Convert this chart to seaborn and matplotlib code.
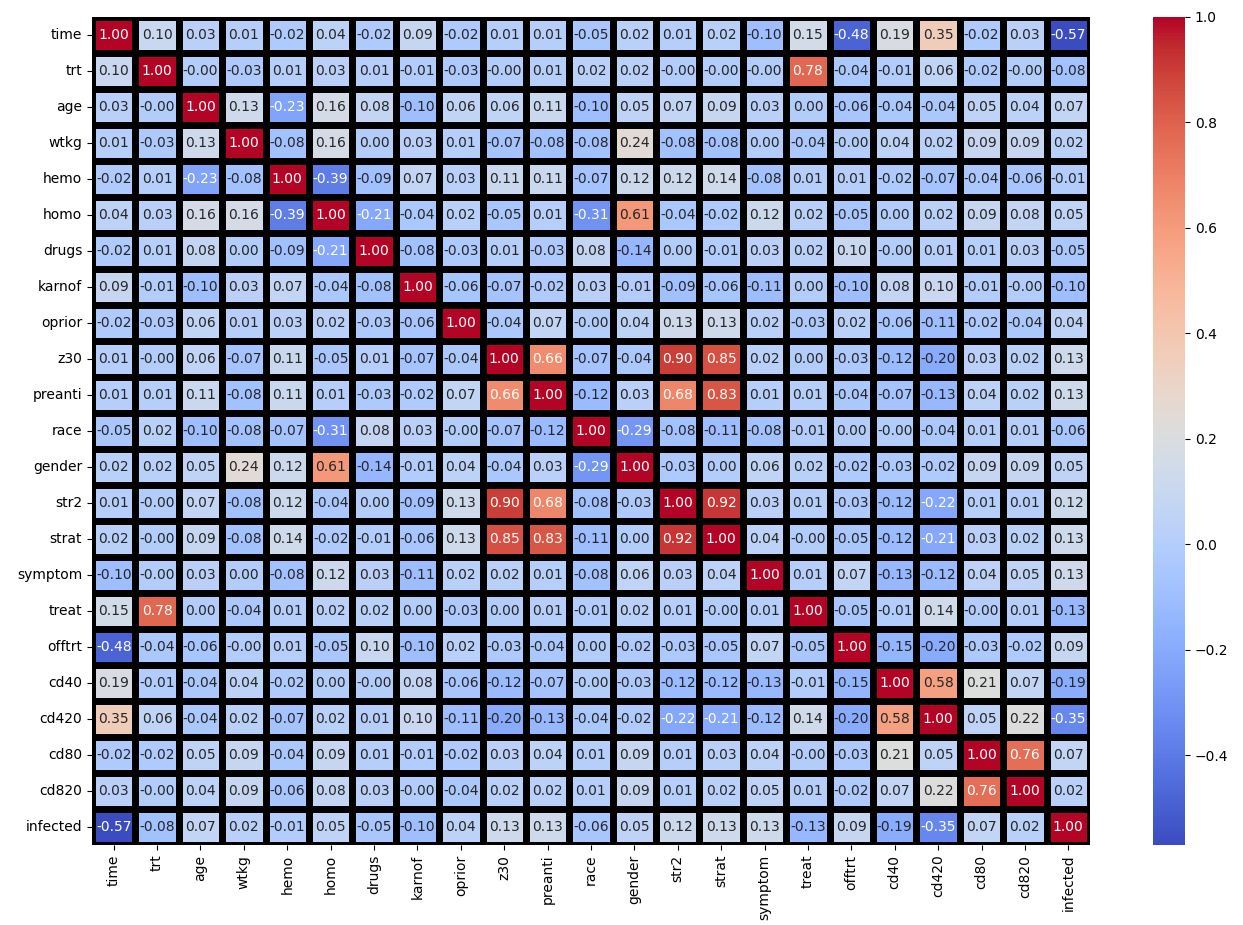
import matplotlib
matplotlib.use("Agg")
import matplotlib.pyplot as plt
import seaborn as sns
import numpy as np
import pandas as pd

labels = ["time", "trt", "age", "wtkg", "hemo", "homo", "drugs", "karnof", "oprior",
          "z30", "preanti", "race", "gender", "str2", "strat", "symptom", "treat",
          "offtrt", "cd40", "cd420", "cd80", "cd820", "infected"]

time = [1.00, 0.10, 0.03, 0.01, -0.02, 0.04, -0.02, 0.09, -0.02, 0.01, 0.01, -0.05, 0.02, 0.01, 0.02, -0.10, 0.15, -0.48, 0.19, 0.35, -0.02, 0.03, -0.57]
trt = [0.10, 1.00, -0.00, -0.03, 0.01, 0.03, 0.01, -0.01, -0.03, -0.00, 0.01, 0.02, 0.02, -0.00, -0.00, -0.00, 0.78, -0.04, -0.01, 0.06, -0.02, -0.00, -0.08]
age = [0.03, -0.00, 1.00, 0.13, -0.23, 0.16, 0.08, -0.10, 0.06, 0.06, 0.11, -0.10, 0.05, 0.07, 0.09, 0.03, 0.00, -0.06, -0.04, -0.04, 0.05, 0.04, 0.07]
wtkg = [0.01, -0.03, 0.13, 1.00, -0.08, 0.16, 0.00, 0.03, 0.01, -0.07, -0.08, -0.08, 0.24, -0.08, -0.08, 0.00, -0.04, -0.00, 0.04, 0.02, 0.09, 0.09, 0.02]
hemo = [-0.02, 0.01, -0.23, -0.08, 1.00, -0.39, -0.09, 0.07, 0.03, 0.11, 0.11, -0.07, 0.12, 0.12, 0.14, -0.08, 0.01, 0.01, -0.02, -0.07, -0.04, -0.06, -0.01]
homo = [0.04, 0.03, 0.16, 0.16, -0.39, 1.00, -0.21, -0.04, 0.02, -0.05, 0.01, -0.31, 0.61, -0.04, -0.02, 0.12, 0.02, -0.05, 0.00, 0.02, 0.09, 0.08, 0.05]
drugs = [-0.02, 0.01, 0.08, 0.00, -0.09, -0.21, 1.00, -0.08, -0.03, 0.01, -0.03, 0.08, -0.14, 0.00, -0.01, 0.03, 0.02, 0.10, -0.00, 0.01, 0.01, 0.03, -0.05]
karnof = [0.09, -0.01, -0.10, 0.03, 0.07, -0.04, -0.08, 1.00, -0.06, -0.07, -0.02, 0.03, -0.01, -0.09, -0.06, -0.11, 0.00, -0.10, 0.08, 0.10, -0.01, -0.00, -0.10]
oprior = [-0.02, -0.03, 0.06, 0.01, 0.03, 0.02, -0.03, -0.06, 1.00, -0.04, 0.07, -0.00, 0.04, 0.13, 0.13, 0.02, -0.03, 0.02, -0.06, -0.11, -0.02, -0.04, 0.04]
z30 = [0.01, -0.00, 0.06, -0.07, 0.11, -0.05, 0.01, -0.07, -0.04, 1.00, 0.66, -0.07, -0.04, 0.90, 0.85, 0.02, 0.00, -0.03, -0.12, -0.20, 0.03, 0.02, 0.13]
preanti = [0.01, 0.01, 0.11, -0.08, 0.11, 0.01, -0.03, -0.02, 0.07, 0.66, 1.00, -0.12, 0.03, 0.68, 0.83, 0.01, 0.01, -0.04, -0.07, -0.13, 0.04, 0.02, 0.13]
race = [-0.05, 0.02, -0.10, -0.08, -0.07, -0.31, 0.08, 0.03, -0.00, -0.07, -0.12, 1.00, -0.29, -0.08, -0.11, -0.08, -0.01, 0.00, -0.00, -0.04, 0.01, 0.01, -0.06]
gender = [0.02, 0.02, 0.05, 0.24, 0.12, 0.61, -0.14, -0.01, 0.04, -0.04, 0.03, -0.29, 1.00, -0.03, 0.00, 0.06, 0.02, -0.02, -0.03, -0.02, 0.09, 0.09, 0.05]
str2 = [0.01, -0.00, 0.07, -0.08, 0.12, -0.04, 0.00, -0.09, 0.13, 0.90, 0.68, -0.08, -0.03, 1.00, 0.92, 0.03, 0.01, -0.03, -0.12, -0.22, 0.01, 0.01, 0.12]
strat = [0.02, -0.00, 0.09, -0.08, 0.14, -0.02, -0.01, -0.06, 0.13, 0.85, 0.83, -0.11, 0.00, 0.92, 1.00, 0.04, -0.00, -0.05, -0.12, -0.21, 0.03, 0.02, 0.13]
symptom = [-0.10, -0.00, 0.03, 0.00, -0.08, 0.12, 0.03, -0.11, 0.02, 0.02, 0.01, -0.08, 0.06, 0.03, 0.04, 1.00, 0.01, 0.07, -0.13, -0.12, 0.04, 0.05, 0.13]
treat = [0.15, 0.78, 0.00, -0.04, 0.01, 0.02, 0.02, 0.00, -0.03, 0.00, 0.01, -0.01, 0.02, 0.01, -0.00, 0.01, 1.00, -0.05, -0.01, 0.14, -0.00, 0.01, -0.13]
offtrt = [-0.48, -0.04, -0.06, -0.00, 0.01, -0.05, 0.10, -0.10, 0.02, -0.03, -0.04, 0.00, -0.02, -0.03, -0.05, 0.07, -0.05, 1.00, -0.15, -0.20, -0.03, -0.02, 0.09]
cd40 = [0.19, -0.01, -0.04, 0.04, -0.02, 0.00, -0.00, 0.08, -0.06, -0.12, -0.07, -0.00, -0.03, -0.12, -0.12, -0.13, -0.01, -0.15, 1.00, 0.58, 0.21, 0.07, -0.19]
cd420 = [0.35, 0.06, -0.04, 0.02, -0.07, 0.02, 0.01, 0.10, -0.11, -0.20, -0.13, -0.04, -0.02, -0.22, -0.21, -0.12, 0.14, -0.20, 0.58, 1.00, 0.05, 0.22, -0.35]
cd80 = [-0.02, -0.02, 0.05, 0.09, -0.04, 0.09, 0.01, -0.01, -0.02, 0.03, 0.04, 0.01, 0.09, 0.01, 0.03, 0.04, -0.00, -0.03, 0.21, 0.05, 1.00, 0.76, 0.07]
cd820 = [0.03, -0.00, 0.04, 0.09, -0.06, 0.08, 0.03, -0.00, -0.04, 0.02, 0.02, 0.01, 0.09, 0.01, 0.02, 0.05, 0.01, -0.02, 0.07, 0.22, 0.76, 1.00, 0.02]
infected = [-0.57, -0.08, 0.07, 0.02, -0.01, 0.05, -0.05, -0.10, 0.04, 0.13, 0.13, -0.06, 0.05, 0.12, 0.13, 0.13, -0.13, 0.09, -0.19, -0.35, 0.07, 0.02, 1.00]

rows = [time, trt, age, wtkg, hemo, homo, drugs, karnof, oprior, z30, preanti, race,
        gender, str2, strat, symptom, treat, offtrt, cd40, cd420, cd80, cd820, infected]
corr = pd.DataFrame(rows, index=labels, columns=labels)

fig = plt.figure(figsize=(12.43, 9.25), dpi=100)
ax = fig.add_axes([92 / 1243, 80 / 925, 998 / 1243, 828 / 925])
cax = fig.add_axes([1153 / 1243, 80 / 925, 32 / 1243, 828 / 925])

sns.heatmap(corr, annot=True, fmt=".2f", cmap="coolwarm", linewidths=4.8,
            linecolor="black", ax=ax, cbar_ax=cax, annot_kws={"fontsize": 10})
ax.tick_params(axis="both", labelsize=10)
plt.setp(ax.get_yticklabels(), rotation=0)
plt.setp(ax.get_xticklabels(), rotation=90)
cax.tick_params(labelsize=10)
for s in cax.spines.values():
    s.set_visible(False)

fig.savefig("out.png", dpi=100)
